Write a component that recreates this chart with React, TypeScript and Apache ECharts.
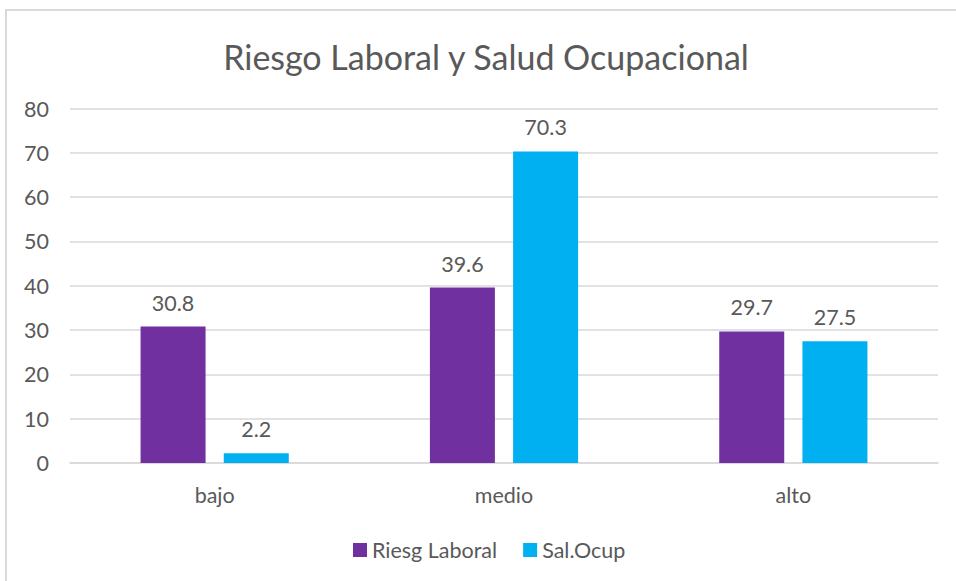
import React, { useEffect, useRef } from "react";
import * as echarts from "echarts";

const categories = ["bajo", "medio", "alto"];
const riesgoLaboral = [30.8, 39.6, 29.7];
const saludOcupacional = [2.2, 70.3, 27.5];
const seriesNames = ["Riesg Laboral", "Sal.Ocup"];
const titleText = "Riesgo Laboral y Salud Ocupacional";

const FONT = "Lato, 'Open Sans', sans-serif";
const TXT = "#595959";
const FS = 21.5;

export default function App() {
  const ref = useRef<HTMLDivElement>(null);
  useEffect(() => {
    document.body.style.margin = "0";
    const chart = echarts.init(ref.current!, null, { renderer: "svg" });
    chart.setOption({
      animation: false,
      backgroundColor: "#ffffff",
      textStyle: { fontFamily: FONT },
      graphic: [
        {
          type: "rect",
          shape: { x: 6, y: 10, width: 1200, height: 1200 },
          style: { fill: "none", stroke: "#d9d9d9", lineWidth: 2 },
          silent: true,
        },
        {
          type: "text",
          x: 486,
          y: 56,
          style: {
            text: titleText,
            fontFamily: FONT,
            fontSize: 34,
            fill: TXT,
            textAlign: "center",
            textVerticalAlign: "middle",
          },
        },
      ],
      legend: {
        left: 353,
        top: 539,
        padding: 0,
        itemWidth: 14,
        itemHeight: 14,
        itemGap: 26,
        icon: "rect",
        textStyle: { color: TXT, fontSize: FS, fontFamily: FONT },
        data: seriesNames,
      },
      grid: { left: 70, right: 18, top: 108.5, bottom: 118, containLabel: false },
      xAxis: {
        type: "category",
        data: categories,
        axisLine: { lineStyle: { color: "#d9d9d9", width: 1.5 } },
        axisTick: { show: false },
        axisLabel: { color: TXT, fontSize: FS, fontFamily: FONT, margin: 21 },
      },
      yAxis: {
        type: "value",
        min: 0,
        max: 80,
        interval: 10,
        axisLine: { show: false },
        axisTick: { show: false },
        axisLabel: { color: TXT, fontSize: FS, fontFamily: FONT, margin: 21 },
        splitLine: { lineStyle: { color: "#d9d9d9", width: 1.5 } },
      },
      series: [
        {
          name: seriesNames[0],
          type: "bar",
          data: riesgoLaboral,
          barWidth: 65,
          barGap: "28%",
          itemStyle: { color: "#7030A0" },
          label: { show: true, position: "top", distance: 13, color: TXT, fontSize: FS, fontFamily: FONT },
        },
        {
          name: seriesNames[1],
          type: "bar",
          data: saludOcupacional,
          barWidth: 65,
          barGap: "28%",
          itemStyle: { color: "#00B0F0" },
          label: { show: true, position: "top", distance: 13, color: TXT, fontSize: FS, fontFamily: FONT },
        },
      ],
    });
    return () => chart.dispose();
  }, []);
  return <div ref={ref} style={{ width: 956, height: 581 }} />;
}
